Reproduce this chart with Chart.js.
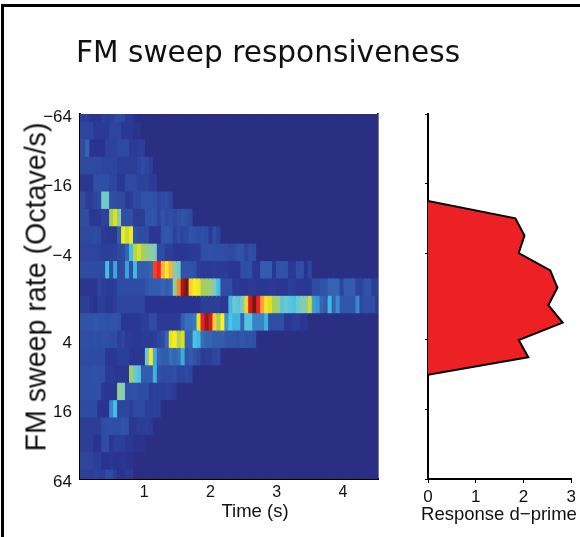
<!DOCTYPE html>
<html>
<head>
<meta charset="utf-8">
<script src="https://cdn.jsdelivr.net/npm/chart.js@4"></script>
<style>
  html, body { margin: 0; padding: 0; background: #fff; }
  #page { position: relative; width: 580px; height: 537px; overflow: hidden; }
  #page canvas { position: absolute; top: 0; }
  .frame { position: absolute; background: #000; }
  .label { position: absolute; white-space: nowrap; color: #111; font-family: "Liberation Sans", sans-serif; }
</style>
</head>
<body>
<div id="page">
  <canvas id="heat" width="400" height="537" style="left:0"></canvas>
  <canvas id="profile" width="180" height="537" style="left:400px"></canvas>
  <div class="frame" style="left:1px;top:4px;width:579px;height:3px"></div>
  <div class="frame" style="left:1px;top:4px;width:3px;height:533px"></div>
  <div class="label" style="left:76px;top:35px;font:29.6px 'DejaVu Sans',sans-serif">FM sweep responsiveness</div>
  <div class="label" style="left:36px;top:287px;font-size:28.6px;transform:translate(-50%,-50%) rotate(-90deg)">FM sweep rate (Octave/s)</div>
  <div class="label" style="left:255px;top:511px;font-size:18.5px;transform:translate(-50%,-50%)">Time (s)</div>
  <div class="label" style="left:499px;top:514px;font-size:18.5px;transform:translate(-50%,-50%)">Response d−prime</div>
</div>
<script>
// tick positions are row numbers, rows are half octave steps
const rateTicks = [0, 4, 8, 13, 17, 21];
const rateLabels = ['−64', '−16', '−4', '4', '16', '64'];
const timeTicks = [1, 2, 3, 4];
const dprimeTicks = [0, 1, 2, 3];

const binStart = 0.03;
const binWidth = 0.06;
const binCount = 75;

// response per row and time bin, 0-100. anything past the end of a row is 0
const heatRows = [
  [10,10,6,6,6,11,9,9,13,14,13,8,8,3],
  [12,12,12,8,8,8,8,12,12,12,7,7,7,5,4],
  [14,20,5,5,5,5,11,11,11,13,13,13,8,8,10,10],
  [13,13,13,13,13,12,12,12,12,10,10,9,9,9,12,14,12,10],
  [7,7,7,15,15,15,15,12,12,7,7,13,13,13,11,11,11,8,8],
  [14,9,9,12,14,41,40,15,15,13,13,8,9,13,13,16,16,16,15,12,14,14,12],
  [14,14,7,7,7,11,11,50,58,45,15,15,15,9,9,9,16,16,16,12,16,13,15,13,15,16,15,13],
  [13,13,13,14,13,8,7,7,7,18,62,55,62,16,14,14,14,6,6,6,16,17,16,11,14,12,13,16,15,14,15,14,8,14,11],
  [12,12,12,12,11,10,10,10,11,13,14,20,35,52,58,50,47,45,42,14,14,10,10,6,6,6,7,8,8,8,15,15,16,15,15,15,14,13,14,16,16,12,15,14],
  [14,14,14,14,14,14,35,14,31,13,14,30,15,34,18,18,18,20,85,88,72,65,72,44,40,16,16,16,15,9,8,8,8,9,8,8,8,6,6,6,15,15,15,6,6,18,18,18,7,16,16,16,7,7,15,15,5,12],
  [6,6,6,6,12,9,8,8,10,14,14,14,14,14,14,14,17,18,18,18,20,18,20,45,78,97,100,68,64,62,50,50,48,42,35,15,15,15,8,8,6,6,8,8,6,6,6,8,8,6,6,6,9,9,7,7,7,7,14,14,16,16,20,20,20,12,18,18,18,12,12,16,16,9,9],
  [10,10,7,5,10,10,7,7,9,12,12,12,12,12,12,12,5,5,5,5,5,5,5,5,5,5,5,5,5,5,10,10,10,10,10,7,7,34,40,38,42,68,92,100,88,74,66,58,50,48,38,40,38,36,40,42,44,56,30,28,20,18,34,20,27,17,17,17,17,26,13,15,15,15,8],
  [16,16,16,17,16,16,15,16,16,15,7,7,7,7,7,10,10,14,14,8,8,8,8,8,8,18,22,22,24,60,88,98,92,68,50,64,28,36,33,33,20,37,37,25,25,25,33,15,15,15,15,7,7,9,9,6,6],
  [15,15,14,15,14,15,15,14,14,10,12,8,8,7,7,8,8,8,9,12,14,20,60,63,52,58,20,20,36,34,22,20,20,18,18,18,16,16,16,15,17,16,16,15],
  [14,14,14,14,14,14,7,7,7,10,10,10,6,6,6,6,40,65,32,20,18,18,22,20,22,32,16,18,16,14,8,10,10,12,13],
  [15,15,15,16,15,15,8,8,6,6,6,7,50,40,37,18,18,18,33,16,14,14,14,15,12,12,13,12],
  [15,15,15,15,15,7,6,6,7,46,42,15,15,16,14,14,14,10,11,10,10,11,10,8],
  [14,14,14,14,5,5,5,26,35,12,12,12,9,13,13,13,10,10,11,10],
  [9,9,9,9,9,14,15,15,15,15,16,15,7,7,9,9,10,8],
  [10,10,10,5,5,14,14,6,10,10,10,7,7,4,4,4],
  [12,12,12,10,10,5,5,7,5,4,6,5,3],
  [10,10,10,11,10,10,14,14,10,4,4,8,8]
];

// d-prime outline, row number against value
const profileRows = [5, 6, 7, 8, 9, 10, 11, 12, 13, 14, 15];
const profileValues = [0, 1.83, 2.02, 1.90, 2.56, 2.71, 2.52, 2.82, 1.90, 2.10, 0];

// jet, but printed looking
const colorStops = [
  [0, '#2a2f83'], [5, '#2a3490'], [10, '#2c3f98'], [15, '#2f4fa6'], [20, '#3564b4'],
  [30, '#3b9fd9'], [36, '#47c4e6'], [42, '#80cbbd'], [50, '#a6cf62'], [58, '#dbe01f'],
  [64, '#fcee1f'], [72, '#fbb040'], [80, '#f47a20'], [88, '#ed2224'], [96, '#b01c20'], [100, '#7f1416']
];

const hexToRgb = (hex) => [1, 3, 5].map(i => parseInt(hex.slice(i, i + 2), 16));

const heatColor = (value) => {
  let i = 0;
  while (i < colorStops.length - 2 && value > colorStops[i + 1][0]) i++;
  const [v0, c0] = colorStops[i];
  const [v1, c1] = colorStops[i + 1];
  const t = (value - v0) / (v1 - v0);
  const a = hexToRgb(c0), b = hexToRgb(c1);
  return `rgb(${a.map((c, k) => Math.round(c + (b[k] - c) * t)).join(',')})`;
};

const tickFont = { family: '"Liberation Sans", sans-serif', size: 17 };

const fixTicks = (values) => (scale) => { scale.ticks = values.map(value => ({ value })); };

// one dataset per time bin, each holds a floating bar for every row
// bars run a little long so no white shows in the seams
const heatDatasets = [];
for (let col = 0; col < binCount; col++) {
  const from = binStart + col * binWidth;
  heatDatasets.push({
    data: heatRows.map((row, i) => ({ y: i, x: [from, from + binWidth + 0.02] })),
    backgroundColor: heatRows.map(row => heatColor(row[col] || 0)),
    borderWidth: 0,
    grouped: false,
    categoryPercentage: 1,
    barPercentage: 1.08
  });
}

new Chart(document.getElementById('heat'), {
  type: 'bar',
  data: { datasets: heatDatasets },
  options: {
    indexAxis: 'y',
    responsive: false,
    animation: false,
    layout: { padding: { top: 114, right: 22 } },
    plugins: { legend: { display: false }, tooltip: { enabled: false } },
    scales: {
      x: {
        type: 'linear',
        min: binStart,
        max: binStart + binCount * binWidth,
        afterBuildTicks: fixTicks(timeTicks),
        afterFit: (s) => { s.height = 58; },
        grid: { display: false },
        border: { color: '#000', width: 2 },
        ticks: { color: '#111', font: { ...tickFont, size: 16 }, padding: -4, autoSkip: false, maxRotation: 0 }
      },
      y: {
        type: 'linear',
        reverse: true,
        offset: false,
        min: 0,
        max: 21,
        afterBuildTicks: fixTicks(rateTicks),
        afterFit: (s) => { s.width = 80; },
        grid: { display: false },
        border: { color: '#000', width: 2 },
        ticks: {
          color: '#111', font: tickFont, padding: 0, labelOffset: 3, autoSkip: false,
          callback: (v) => rateLabels[rateTicks.indexOf(v)]
        }
      },
      yRight: {
        type: 'linear',
        position: 'right',
        min: 0,
        max: 21,
        afterFit: (s) => { s.width = 0; },
        grid: { display: false },
        border: { color: '#000', width: 1.5 },
        ticks: { display: false }
      }
    }
  }
});

new Chart(document.getElementById('profile'), {
  type: 'line',
  data: {
    datasets: [{
      data: profileRows.map((row, i) => ({ y: row, x: profileValues[i] })),
      borderColor: '#000',
      borderWidth: 2,
      backgroundColor: '#ed2024',
      fill: 'origin',
      tension: 0,
      pointRadius: 0
    }]
  },
  options: {
    indexAxis: 'y',
    responsive: false,
    animation: false,
    layout: { padding: { top: 114, right: 8 } },
    plugins: { legend: { display: false }, tooltip: { enabled: false } },
    scales: {
      x: {
        type: 'linear',
        min: 0,
        max: 3,
        afterBuildTicks: fixTicks(dprimeTicks),
        afterFit: (s) => { s.height = 58; },
        grid: { drawOnChartArea: false, color: '#000', tickLength: 4 },
        border: { color: '#000', width: 2 },
        ticks: { color: '#111', font: tickFont, padding: 4, autoSkip: false, maxRotation: 0 }
      },
      y: {
        type: 'linear',
        reverse: true,
        min: 0,
        max: 21,
        afterBuildTicks: fixTicks(rateTicks),
        afterFit: (s) => { s.width = 28; },
        grid: { drawOnChartArea: false, color: '#000', tickLength: 3 },
        border: { color: '#000', width: 2 },
        ticks: { callback: () => '', padding: 0 }
      }
    }
  }
});
</script>
</body>
</html>
